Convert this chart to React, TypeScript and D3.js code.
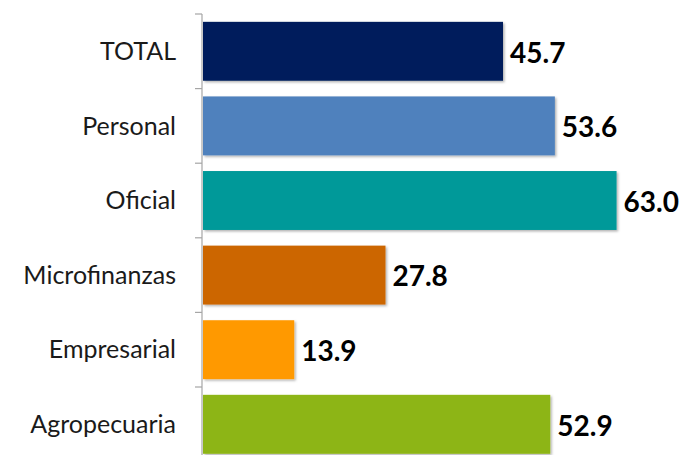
import React from "react";
import * as d3 from "d3";

const categories = ["TOTAL", "Personal", "Oficial", "Microfinanzas", "Empresarial", "Agropecuaria"];
const values = [45.7, 53.6, 63.0, 27.8, 13.9, 52.9];
const colors = ["#001F5C", "#4F81BD", "#009999", "#CC6600", "#FF9900", "#8DB515"];

const W = 684;
const H = 455;
const x0 = 203;

export default function App() {
  const x = d3.scaleLinear().domain([0, 45.7]).range([x0, 503]);
  const y = d3.scaleBand<string>().domain(categories).range([14, 461.6]).paddingInner(0.21).paddingOuter(0.105);
  const step = y.step();
  const ticks = d3.range(categories.length + 1).map((i) => 14 + i * step);
  return (
    <svg width={W} height={H} style={{ position: "absolute", left: 0, top: 0, background: "#fff" }}>
      <defs>
        <filter id="sh" x="-5%" y="-10%" width="110%" height="130%">
          <feDropShadow dx="1.5" dy="1.5" stdDeviation="1" floodColor="#000" floodOpacity="0.3" />
        </filter>
      </defs>
      <line x1={202} x2={202} y1={14} y2={H} stroke="#A6A6A6" strokeWidth={1.2} />
      {ticks.map((t, i) => (
        <line key={i} x1={195} x2={202} y1={t} y2={t} stroke="#A6A6A6" strokeWidth={1.2} />
      ))}
      {categories.map((c, i) => (
        <g key={c}>
          <rect x={x(0)} y={y(c)} width={x(values[i]) - x(0)} height={y.bandwidth()} fill={colors[i]} filter="url(#sh)" />
          <text x={176} y={(y(c) as number) + y.bandwidth() / 2} dy="0.35em" textAnchor="end" fontFamily="Lato, 'Open Sans', sans-serif" fontSize={25} fill="#1a1a1a">{c}</text>
          <text x={x(values[i]) + 7} y={(y(c) as number) + y.bandwidth() / 2 + 1.5} dy="0.35em" fontFamily="Lato, 'Open Sans', sans-serif" fontWeight="bold" fontSize={28} fill="#000">{values[i].toFixed(1)}</text>
        </g>
      ))}
    </svg>
  );
}
